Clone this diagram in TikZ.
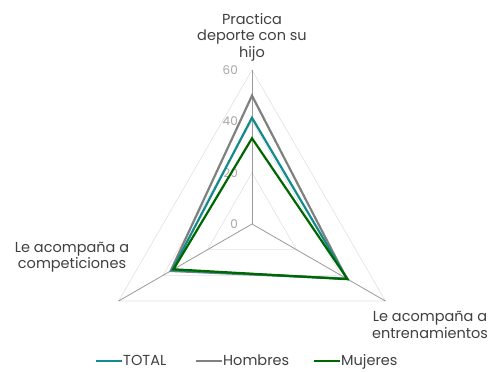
\documentclass[tikz,border=0pt]{standalone}
\usepackage{fontspec}
\setmainfont{Poppins}
\usetikzlibrary{calc}
\definecolor{cteal}{HTML}{138A8C}
\definecolor{cgray}{HTML}{808080}
\definecolor{cgreen}{HTML}{006600}
\definecolor{ctext}{HTML}{404040}
\definecolor{ctick}{HTML}{A6A6A6}
\definecolor{cgrid}{HTML}{E0E0E0}
\definecolor{caxis}{HTML}{999999}
\begin{document}
\begin{tikzpicture}[x=1pt,y=1pt,
  gridline/.style={draw=cgrid,line width=0.6pt},
  axisline/.style={draw=caxis,line width=0.8pt},
  serie/.style={line width=2.2pt,line join=miter},
  catlabel/.style={font=\fontsize{14.5}{16.5}\selectfont,text=ctext,align=center,inner sep=0pt},
  ticklabel/.style={font=\fontsize{12}{13}\selectfont,text=ctick,anchor=east,inner sep=0pt},
  legtext/.style={font=\fontsize{14.5}{16}\selectfont,text=ctext,anchor=base west,inner sep=0pt}]
\useasboundingbox (0,0) rectangle (496,372);
\coordinate (c) at (252,148);
\def\k{2.5667}
% grid triangles
\foreach \v in {20,40,60}{
  \draw[gridline] ($(c)+(90:\v*\k)$) -- ($(c)+(-30:\v*\k)$) -- ($(c)+(210:\v*\k)$) -- cycle;
}
% axes
\coordinate (a1) at ($(c)+(90:154)$);
\coordinate (a2) at ($(c)+(-30:154)$);
\coordinate (a3) at ($(c)+(210:154)$);
\draw[axisline] (c) -- (a1);
\draw[axisline] (c) -- (a2);
\draw[axisline] (c) -- (a3);
% tick labels
\node[ticklabel] (t0) at (238,148) {0};
\node[ticklabel] (t20) at (238,199.3) {20};
\node[ticklabel] (t40) at (238,250.7) {40};
\node[ticklabel] (t60) at (238,302) {60};
% data
\coordinate (h1) at ($(c)+(90:50*\k)$);
\coordinate (h2) at ($(c)+(-30:42.6*\k)$);
\coordinate (h3) at ($(c)+(210:36.6*\k)$);
\coordinate (t1) at ($(c)+(90:41.4*\k)$);
\coordinate (t2) at ($(c)+(-30:42.8*\k)$);
\coordinate (t3) at ($(c)+(210:35.9*\k)$);
\coordinate (m1) at ($(c)+(90:33.4*\k)$);
\coordinate (m2) at ($(c)+(-30:43*\k)$);
\coordinate (m3) at ($(c)+(210:35.3*\k)$);
\draw[serie,cgray] (h1) -- (h2) -- (h3) -- cycle;
\draw[serie,cteal] (t1) -- (t2) -- (t3) -- cycle;
\draw[serie,cgreen] (m1) -- (m2) -- (m3) -- cycle;
% category labels
\node[catlabel] (l1) at (252,335) {Practica\\deporte con su\\hijo};
\node[catlabel] (l2) at (72,115) {Le acompaña a\\competiciones};
\node[catlabel] (l3) at (430,47) {Le acompaña a\\entrenamientos};
% legend
\coordinate (g1a) at (96,11); \coordinate (g1b) at (122,11);
\draw[cteal,line width=2.2pt] (g1a) -- (g1b);
\node[legtext] (lg1) at (123,6) {TOTAL};
\coordinate (g2a) at (196,11); \coordinate (g2b) at (222,11);
\draw[cgray,line width=2.2pt] (g2a) -- (g2b);
\node[legtext] (lg2) at (223,6) {Hombres};
\coordinate (g3a) at (314,11); \coordinate (g3b) at (340,11);
\draw[cgreen,line width=2.2pt] (g3a) -- (g3b);
\node[legtext] (lg3) at (341,6) {Mujeres};
\end{tikzpicture}
\end{document}
